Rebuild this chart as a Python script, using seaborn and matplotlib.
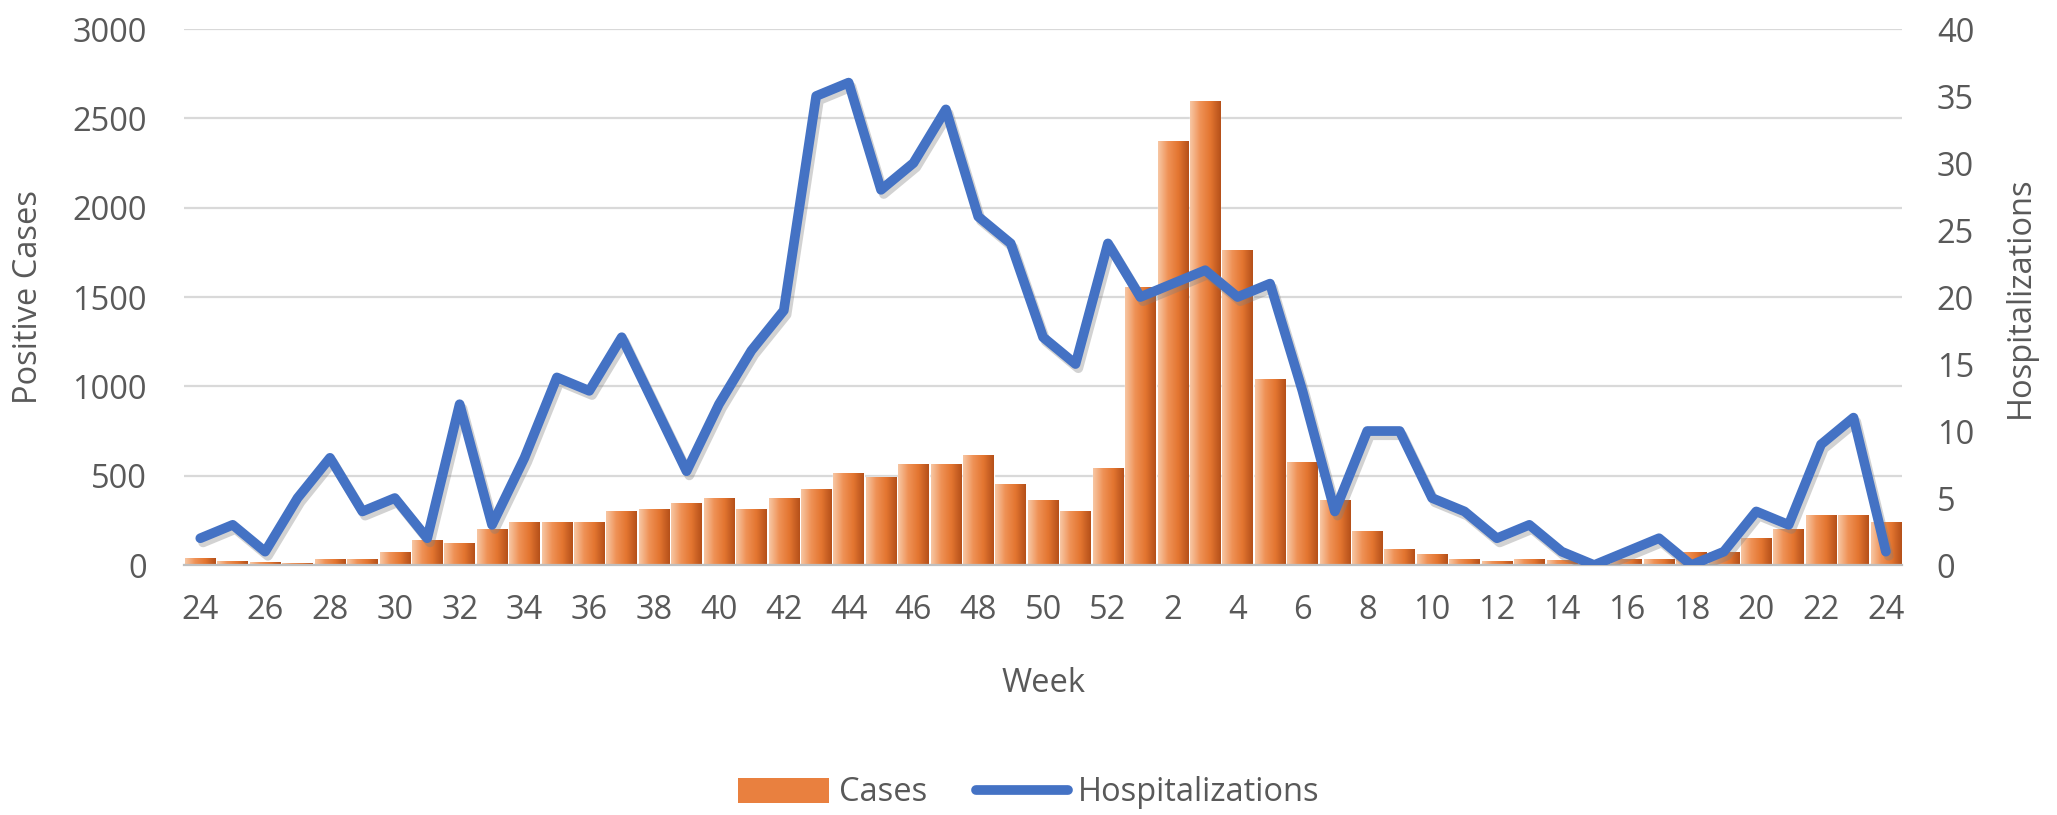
import numpy as np
import pandas as pd
import seaborn as sns
import matplotlib.pyplot as plt
from matplotlib.colors import LinearSegmentedColormap
from matplotlib.patches import Patch
from matplotlib.lines import Line2D
import matplotlib.patheffects as pe

# Week labels (week 24 of year one through week 24 of the next year)
weeks = list(range(24, 53)) + list(range(1, 25))

cases = [40, 25, 15, 10, 35, 35, 75, 140, 125, 200,
         240, 240, 240, 305, 315, 350, 378, 314, 378, 427,
         515, 491, 566, 566, 617, 453, 365, 301, 541,
         1558, 2374, 2598, 1761, 1041, 579, 365, 190, 88, 64,
         36, 24, 36, 30, 15, 36, 36, 73, 73, 152, 201, 278, 278, 239]

hospitalizations = [2, 3, 1, 5, 8, 4, 5, 2, 12, 3,
                    8, 14, 13, 17, 12, 7, 12, 16, 19, 35,
                    36, 28, 30, 34, 26, 24, 17, 15, 24,
                    20, 21, 22, 20, 21, 13, 4, 10, 10, 5,
                    4, 2, 3, 1, 0, 1, 2, 0, 1, 4, 3, 9, 11, 1]

df = pd.DataFrame({'idx': range(len(weeks)), 'week': weeks,
                   'cases': cases, 'hosp': hospitalizations})

text_col = '#595959'
orange = '#ED7D31'
blue = '#4472C4'
fs = 23.5

sns.set_style('white')
plt.rcParams['font.family'] = ['Open Sans', 'DejaVu Sans']

fig, ax1 = plt.subplots(figsize=(20.57, 8.15), dpi=100)
fig.subplots_adjust(left=0.0895, right=0.9247, top=0.9644, bottom=0.3067)

sns.barplot(data=df, x='idx', y='cases', color=orange, width=0.94,
            saturation=1, ax=ax1, zorder=2)

# gradient fill on each bar, clipped to the bar shape
cmap = LinearSegmentedColormap.from_list(
    'bar', ['#F7C6A3', '#EF9155', '#E37530', '#B5501A'])
grad = np.linspace(0, 1, 64).reshape(1, -1)
for p in list(ax1.patches):
    bb = p.get_bbox()
    im = ax1.imshow(grad, extent=[bb.x0, bb.x1, bb.y0, bb.y1], aspect='auto',
                    cmap=cmap, zorder=2.1, interpolation='bilinear')
    im.set_clip_path(p)

ax1.set_xlim(-0.5, len(weeks) - 0.5)
ax1.set_ylim(0, 3000)
ax1.set_yticks(range(0, 3001, 500))
ax1.set_axisbelow(True)
ax1.yaxis.grid(True, color='#D9D9D9', linewidth=1.6)
ax1.xaxis.grid(False)

ax2 = ax1.twinx()
sns.lineplot(data=df, x='idx', y='hosp', color=blue, linewidth=7, ax=ax2,
             path_effects=[pe.SimpleLineShadow(offset=(2, -3), shadow_color='#7F7F7F', alpha=0.35),
                           pe.Normal()])
ax2.set_ylim(0, 40)
ax2.set_yticks(range(0, 41, 5))
ax2.set_xlim(-0.5, len(weeks) - 0.5)

tick_pos = df['idx'][::2]
ax1.set_xticks(tick_pos)
ax1.set_xticklabels(df['week'][::2])

for ax in (ax1, ax2):
    for s in ax.spines.values():
        s.set_visible(False)
ax1.spines['bottom'].set_visible(True)
ax1.spines['bottom'].set_color('#BFBFBF')
ax1.spines['bottom'].set_linewidth(1.6)

ax1.tick_params(axis='y', length=0, pad=27, labelsize=fs, labelcolor=text_col)
ax1.tick_params(axis='x', length=0, pad=21, labelsize=fs, labelcolor=text_col)
ax2.tick_params(axis='y', length=0, pad=25, labelsize=fs, labelcolor=text_col)

ax1.set_xlabel('Week', fontsize=fs, color=text_col)
ax1.xaxis.set_label_coords(0.5, -0.19)
ax1.set_ylabel('Positive Cases', fontsize=fs, color=text_col)
ax1.yaxis.set_label_coords(-0.081, 0.5)
ax2.set_ylabel('Hospitalizations', fontsize=fs, color=text_col)
ax2.yaxis.set_label_coords(1.059, 0.5)

handles = [Patch(facecolor='#E9803F', edgecolor='none', label='Cases'),
           Line2D([0], [0], color=blue, linewidth=7, label='Hospitalizations')]
fig.legend(handles=handles, loc='center', bbox_to_anchor=(0.5, 0.027), ncol=2,
           frameon=False, fontsize=fs, labelcolor=text_col,
           handlelength=2.8, handleheight=0.8, handletextpad=0.3, columnspacing=1.5)

fig.savefig('out.png', dpi=100)
